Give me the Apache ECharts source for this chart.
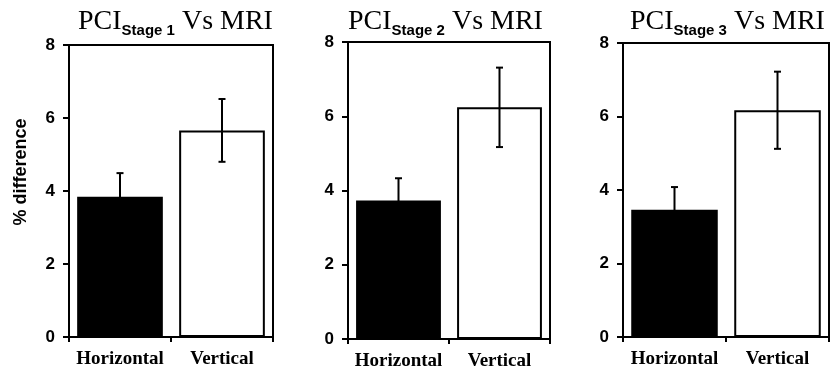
<!DOCTYPE html>
<html>
<head>
<meta charset="utf-8">
<script src="https://cdn.jsdelivr.net/npm/echarts@6/dist/echarts.min.js"></script>
<style>
  html, body { margin: 0; padding: 0; background: #fff; }
  #chart { width: 832px; height: 373px; }
</style>
</head>
<body>
<div id="chart"></div>
<script>
// data
var categories = ["Horizontal", "Vertical"];
var stageNames = ["Stage 1", "Stage 2", "Stage 3"];
var stage1Means = [3.84, 5.66];
var stage1Errors = [0.65, 0.86];
var stage2Means = [3.73, 6.24];
var stage2Errors = [0.6, 1.07];
var stage3Means = [3.46, 6.17];
var stage3Errors = [0.62, 1.05];
var yTicks = { min: 0, max: 8, interval: 2 };

var means = [stage1Means, stage2Means, stage3Means];
var errors = [stage1Errors, stage2Errors, stage3Errors];

// plot boxes in pixels
var grids = [
  { left: 69, top: 45, width: 204, height: 292 },
  { left: 348, top: 42, width: 202, height: 297 },
  { left: 623, top: 43, width: 206, height: 294 }
];
var titleLeft = [78, 348, 630];

var serif = "'Liberation Serif', 'Times New Roman', serif";
var sans = "'Liberation Sans', Arial, sans-serif";

let chart = echarts.init(document.getElementById("chart"));

var option = {
  animation: false,
  backgroundColor: "#fff",
  title: [],
  grid: [],
  xAxis: [],
  yAxis: [],
  series: [],
  graphic: [{
    type: "text",
    x: 21,
    y: 172,
    rotation: Math.PI / 2,
    style: {
      text: "% difference",
      font: "bold 18px " + sans,
      fill: "#000",
      align: "center",
      verticalAlign: "middle"
    }
  }]
};

grids.forEach(function (g, i) {
  option.title.push({
    text: "{a|PCI}{b|" + stageNames[i] + "}{a| Vs MRI}",
    left: titleLeft[i],
    top: 6,
    padding: 0,
    textStyle: {
      rich: {
        a: { fontFamily: serif, fontWeight: "normal", fontSize: 28, color: "#000", lineHeight: 32 },
        b: { fontFamily: sans, fontWeight: "bold", fontSize: 15, color: "#000", lineHeight: 12, verticalAlign: "bottom" }
      }
    }
  });
  option.grid.push({
    left: g.left, top: g.top, width: g.width, height: g.height,
    show: true, borderColor: "#000", borderWidth: 2, backgroundColor: "transparent"
  });
  option.xAxis.push({
    type: "category",
    gridIndex: i,
    data: categories,
    axisLine: { lineStyle: { color: "#000", width: 2 } },
    axisTick: { show: true, length: 5, lineStyle: { color: "#000", width: 2 } },
    axisLabel: { interval: 0, color: "#000", fontFamily: serif, fontWeight: "bold", fontSize: 19, margin: 13 }
  });
  option.yAxis.push({
    type: "value",
    gridIndex: i,
    min: yTicks.min,
    max: yTicks.max,
    interval: yTicks.interval,
    axisLine: { show: true, lineStyle: { color: "#000", width: 2 } },
    axisTick: { show: true, length: 6, lineStyle: { color: "#000", width: 2 } },
    splitLine: { show: false },
    axisLabel: { color: "#000", fontFamily: sans, fontWeight: "bold", fontSize: 17, margin: 14 }
  });
  option.series.push({
    type: "bar",
    xAxisIndex: i,
    yAxisIndex: i,
    barCategoryGap: "16%",
    data: means[i].map(function (v, k) {
      return {
        value: v,
        itemStyle: k === 0
          ? { color: "#000", borderColor: "#000", borderWidth: 2 }
          : { color: "#fff", borderColor: "#000", borderWidth: 2 }
      };
    })
  });
  // error bars
  option.series.push({
    type: "custom",
    xAxisIndex: i,
    yAxisIndex: i,
    z: 5,
    data: means[i].map(function (v, k) { return [k, v - errors[i][k], v + errors[i][k]]; }),
    renderItem: function (params, api) {
      var lo = api.coord([api.value(0), api.value(1)]);
      var hi = api.coord([api.value(0), api.value(2)]);
      var w = 3.5;
      var st = { stroke: "#000", lineWidth: 2 };
      return {
        type: "group",
        children: [
          { type: "line", shape: { x1: hi[0], y1: hi[1], x2: lo[0], y2: lo[1] }, style: st },
          { type: "line", shape: { x1: hi[0] - w, y1: hi[1], x2: hi[0] + w, y2: hi[1] }, style: st },
          { type: "line", shape: { x1: lo[0] - w, y1: lo[1], x2: lo[0] + w, y2: lo[1] }, style: st }
        ]
      };
    }
  });
});

chart.setOption(option);
</script>
</body>
</html>
